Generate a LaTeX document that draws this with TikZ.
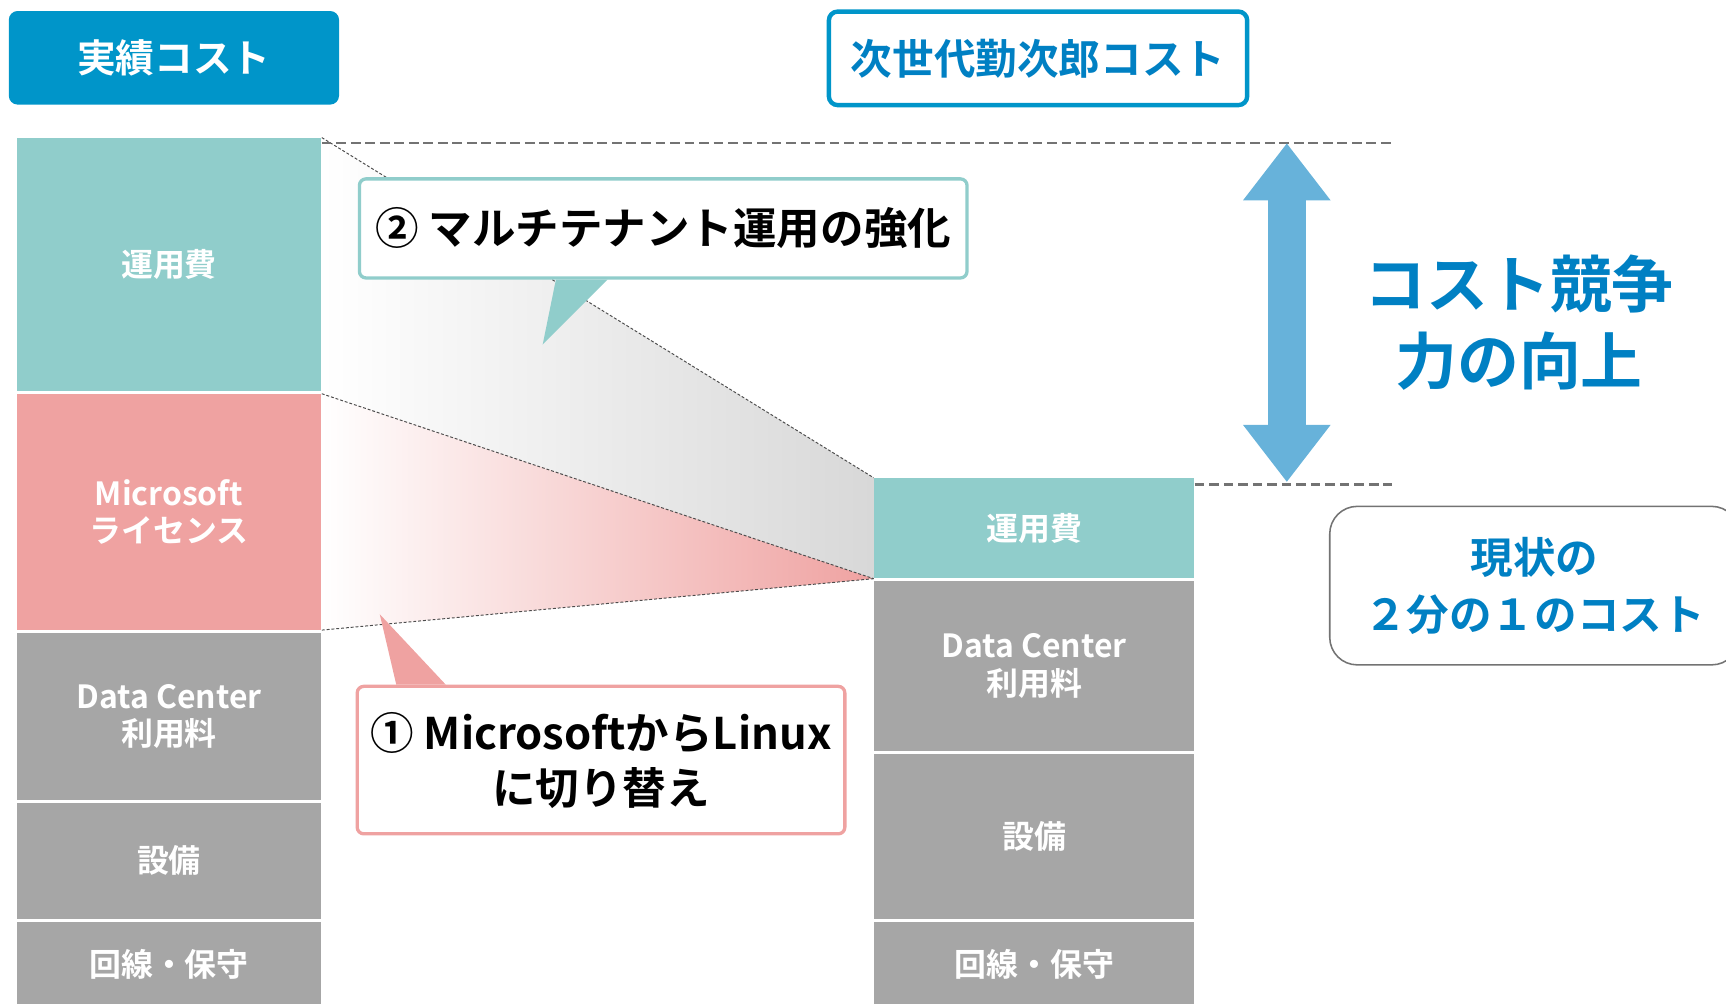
\documentclass[tikz,border=0pt]{standalone}
\usepackage{fontspec}
\setmainfont{Noto Sans CJK JP}[BoldFont=* Bold]
\usetikzlibrary{arrows.meta,positioning}
\definecolor{headblue}{HTML}{0095C9}
\definecolor{opsteal}{HTML}{90CDCB}
\definecolor{licpink}{HTML}{EFA2A1}
\definecolor{costgray}{HTML}{A6A6A6}
\definecolor{arrowblue}{HTML}{67B2DA}
\definecolor{textblue}{HTML}{0080C3}
\definecolor{shadegray}{HTML}{D8D8D8}
\tikzset{
    %Define standard arrow tip
    >=Triangle,
    %Define style for the title boxes
    headfill/.style={
           rectangle,
           rounded corners=0.16cm,
           fill=headblue,
           minimum width=6.0cm,
           minimum height=1.70cm,
           text=white,
           font=\bfseries\fontsize{20}{24}\selectfont},
    headline/.style={
           rectangle,
           rounded corners=0.16cm,
           draw=headblue, line width=0.08cm,
           fill=white,
           minimum width=7.60cm,
           minimum height=1.70cm,
           text=textblue,
           font=\bfseries\fontsize{21.5}{26}\selectfont},
    %Define style for the cost blocks
    costblock/.style={
           rectangle,
           inner sep=0pt,
           anchor=north,
           align=center,
           text=white,
           font=\bfseries\fontsize{16.5}{19.5}\selectfont},
    leftblock/.style={costblock, minimum width=5.54cm},
    rightblock/.style={costblock, minimum width=5.82cm},
    %Define style for the callouts
    callout/.style={
           rectangle,
           rounded corners=0.12cm,
           fill=white,
           line width=0.06cm,
           align=center,
           font=\bfseries\fontsize{22.5}{28.5}\selectfont},
    statusbox/.style={
           rectangle,
           rounded corners=0.5cm,
           draw=black!55, line width=0.8pt,
           fill=white,
           minimum width=7.44cm,
           minimum height=2.88cm,
           align=center,
           text=textblue,
           font=\bfseries\fontsize{22}{29.6}\selectfont},
    % Define line styles
    levelline/.style={
           draw=black!55,
           line width=1.2pt,
           dash pattern=on 5pt off 2.5pt},
    guide/.style={
           draw=black!70,
           line width=0.5pt,
           dash pattern=on 1.5pt off 1pt},
    bigarrow/.style={
           {Triangle[width=1.52cm,length=1.04cm]}-{Triangle[width=1.52cm,length=1.04cm]},
           draw=arrowblue, line width=0.68cm}
}
\begin{document}
\begin{tikzpicture}[node distance=0.04cm]
\useasboundingbox (0,0) rectangle (31.36,-18.24);
 %titles
\node[headfill](actual) at (3.16,-1.05){実績コスト};
\node[headline](next) at (18.86,-1.06){次世代勤次郎コスト};
 %left column
\node[leftblock, fill=opsteal, minimum height=4.60cm](l1) at (3.07,-2.50){運用費};
\node[leftblock, fill=licpink, minimum height=4.28cm, below=of l1](l2){Microsoft\\ライセンス};
\node[leftblock, fill=costgray, minimum height=3.04cm, below=of l2](l3){Data Center\\利用料};
\node[leftblock, fill=costgray, minimum height=2.10cm, below=of l3](l4){設備};
\node[leftblock, fill=costgray, minimum height=1.56cm, below=of l4](l5){回線・保守};
 %right column
\node[rightblock, fill=opsteal, minimum height=1.82cm](r1) at (18.79,-8.68){運用費};
\node[rightblock, fill=costgray, minimum height=3.08cm, below=of r1](r2){Data Center\\利用料};
\node[rightblock, fill=costgray, minimum height=3.00cm, below=of r2](r3){設備};
\node[rightblock, fill=costgray, minimum height=1.54cm, below=of r3](r4){回線・保守};
 %shaded wedges
\path[left color=white, right color=shadegray]
   (l1.north east) -- (r1.north west) -- (r1.south west) -- (l2.south east) -- cycle;
\path[left color=white, right color=licpink]
   (l2.north east) -- (r1.south west) -- (l2.south east) -- cycle;
\path[guide]
   (l1.north east) edge (r1.north west)
   (l2.north east) edge (r1.south west)
   (l2.south east) edge (r1.south west);
 %levels
\coordinate (topend) at (25.30,-2.60);
\coordinate (lowend) at (25.30,-8.80);
\draw[levelline] (l1.north east |- topend) -- (topend);
\draw[levelline] (r1.north east |- lowend) -- (lowend);
 %callouts
\node[callout, draw=opsteal, minimum width=11.04cm, minimum height=1.80cm](step2) at (12.05,-4.15){② マルチテナント運用の強化};
\fill[opsteal] (10.10,-5.08) -- (11.04,-5.08) -- (9.86,-6.26) -- cycle;
\node[callout, draw=licpink, minimum width=8.86cm, minimum height=2.68cm](step1) at (10.92,-13.81){① MicrosoftからLinux\\に切り替え};
\fill[licpink] (7.20,-12.44) -- (8.10,-12.44) -- (6.90,-11.16) -- cycle;
 %gap arrow
\coordinate (arrtop) at (23.38,-2.60);
\coordinate (arrbot) at (23.38,-8.76);
\draw[bigarrow] (arrtop) -- (arrbot);
\node[text=textblue, align=center, font=\bfseries\fontsize{32}{40}\selectfont](gain) at (27.60,-5.86){コスト競争\\力の向上};
\node[statusbox](status) at (27.88,-10.64){現状の\\２分の１のコスト};
\end{tikzpicture}
\end{document}
